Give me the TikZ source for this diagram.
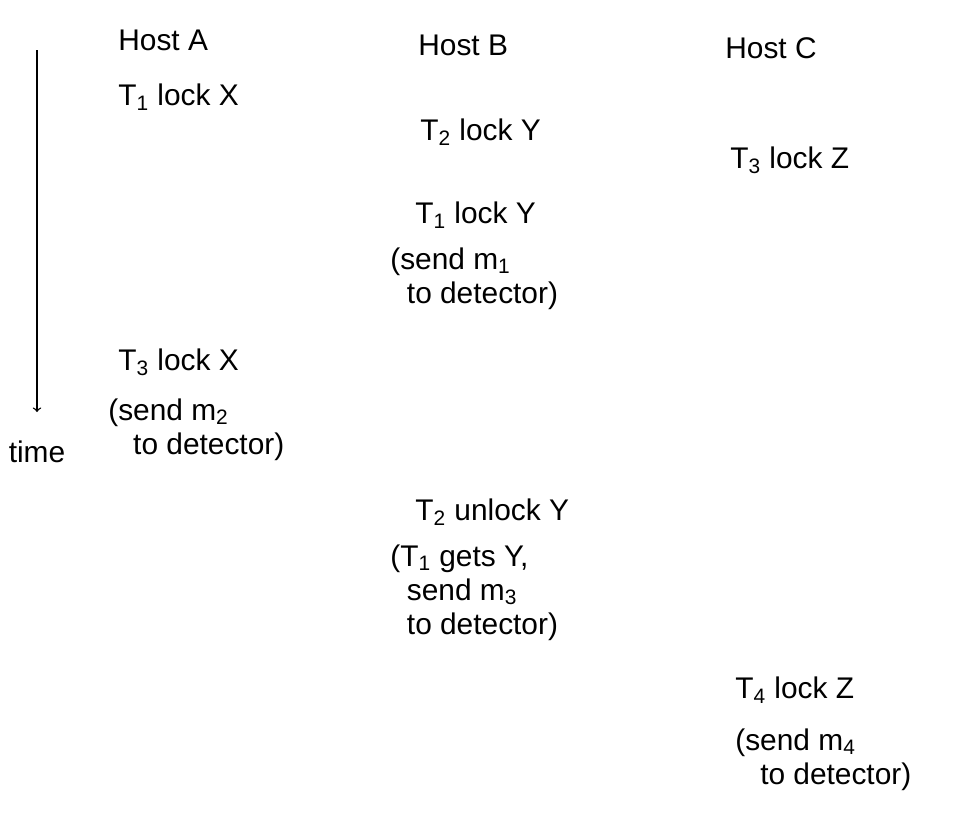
\documentclass[tikz,border=0pt]{standalone}
\usepackage{fontspec}
\setmainfont{Liberation Sans}
\usetikzlibrary{calc}

\begin{document}
\begin{tikzpicture}[x=0.02cm,y=-0.02cm,
  every node/.style={anchor=west,inner sep=0pt,font=\fontsize{17}{19.5}\selectfont},
  note/.style={anchor=north west,align=left}]
\useasboundingbox (0,0) rectangle (980,816);
\node (hosta) at (118,40) {Host A};
\node (hostb) at (418,45) {Host B};
\node (hostc) at (725,48) {Host C};
\node (t1x) at (118,97) {T\textsubscript{1} lock X};
\node (t2y) at (420,132) {T\textsubscript{2} lock Y};
\node (t3z) at (730,160) {T\textsubscript{3} lock Z};
\node (t1y) at (415,215) {T\textsubscript{1} lock Y};
\node[note] (m1) at (390,247) {(send m\textsubscript{1}\\\ \ to detector)};
\node (t3x) at (118,362) {T\textsubscript{3} lock X};
\node[note] (m2) at (108,398) {(send m\textsubscript{2}\\\ \ \ to detector)};
\node (t2u) at (415,512) {T\textsubscript{2} unlock Y};
\node[note] (m3) at (390,544) {(T\textsubscript{1} gets Y,\\\ \ send m\textsubscript{3}\\\ \ to detector)};
\node (t4z) at (735,690) {T\textsubscript{4} lock Z};
\node[note] (m4) at (735,728) {(send m\textsubscript{4}\\\ \ \ to detector)};
\coordinate (tbeg) at (37,50);
\coordinate (tend) at (37,412);
\draw[->,thick] (tbeg) -- (tend);
\node[anchor=north] (time) at (37,440) {time};
\end{tikzpicture}
\end{document}
